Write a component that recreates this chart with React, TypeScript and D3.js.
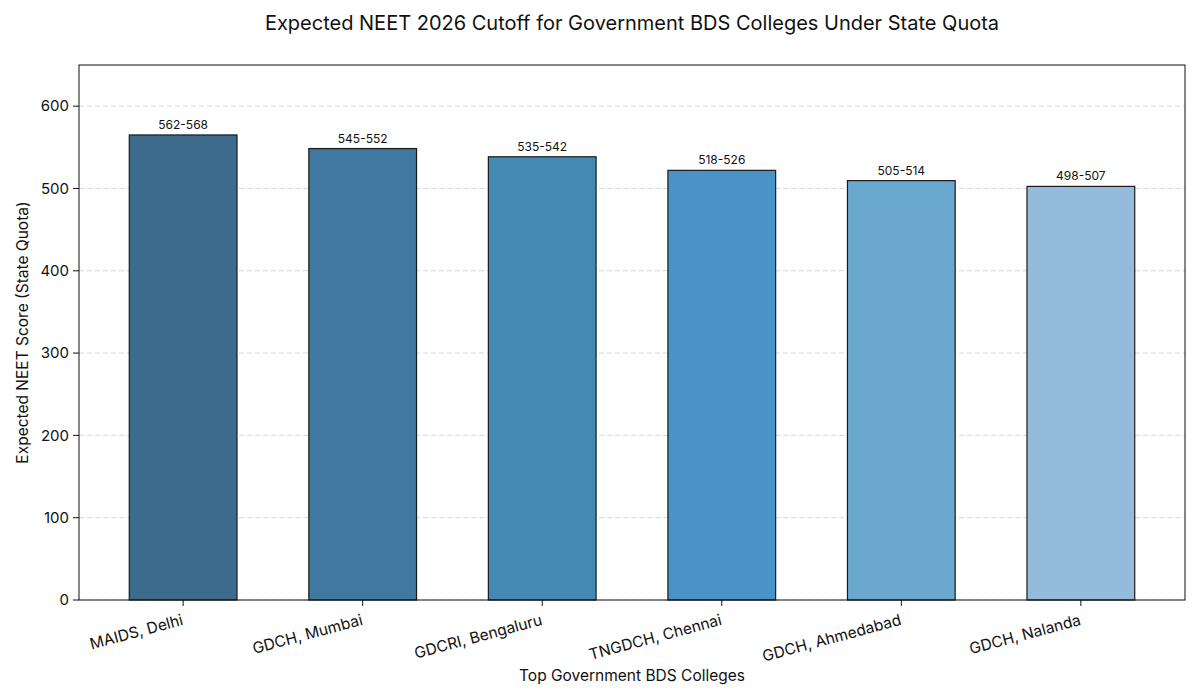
import React from "react";
import * as d3 from "d3";

const colleges = [
  "MAIDS, Delhi",
  "GDCH, Mumbai",
  "GDCRI, Bengaluru",
  "TNGDCH, Chennai",
  "GDCH, Ahmedabad",
  "GDCH, Nalanda",
];
const cutoffLow = [562, 545, 535, 518, 505, 498];
const cutoffHigh = [568, 552, 542, 526, 514, 507];
const barColors = ["#3d6b8b", "#4079a0", "#4488b4", "#4a93c6", "#6aa8cf", "#94bbdb"];
const yTicks = [0, 100, 200, 300, 400, 500, 600];

const W = 1200;
const H = 700;
const margin = { top: 65, right: 15, bottom: 100, left: 79 };
const font = "Inter, 'Noto Sans', sans-serif";

export default function App() {
  const innerW = W - margin.left - margin.right;
  const innerH = H - margin.top - margin.bottom;

  // bar height = middle of the expected range
  const mids = cutoffLow.map((d, i) => (d + cutoffHigh[i]) / 2);

  const x = d3.scaleLinear().domain([-0.58, colleges.length - 1 + 0.58]).range([0, innerW]);
  const y = d3.scaleLinear().domain([0, 650]).range([innerH, 0]);
  const bw = x(0.6) - x(0);

  return (
    <svg width={W} height={H} style={{ display: "block", position: "absolute", left: 0, top: 0 }} fontFamily={font}>
      <rect width={W} height={H} fill="white" />
      <text x={margin.left + innerW / 2} y={30} textAnchor="middle" fontSize={20} fill="#111">
        Expected NEET 2026 Cutoff for Government BDS Colleges Under State Quota
      </text>
      <g transform={`translate(${margin.left},${margin.top})`}>
        {yTicks.map((t) => (
          <g key={t}>
            <line x1={0} x2={innerW} y1={y(t)} y2={y(t)} stroke="#cccccc" strokeDasharray="5,3" strokeWidth={0.8} />
            <line x1={-6} x2={0} y1={y(t)} y2={y(t)} stroke="#111" strokeWidth={1} />
            <text x={-10} y={y(t)} dy="0.35em" textAnchor="end" fontSize={15} fill="#111">
              {t}
            </text>
          </g>
        ))}
        {mids.map((v, i) => (
          <g key={colleges[i]}>
            <rect
              x={x(i) - bw / 2}
              y={y(v)}
              width={bw}
              height={innerH - y(v)}
              fill={barColors[i]}
              stroke="#1a1a1a"
              strokeWidth={1.2}
            />
            <text x={x(i)} y={y(v) - 6} textAnchor="middle" fontSize={12} fill="#111">
              {cutoffLow[i]}-{cutoffHigh[i]}
            </text>
            <line x1={x(i)} x2={x(i)} y1={innerH} y2={innerH + 6} stroke="#111" />
            <text
              transform={`translate(${x(i) - 2},${innerH + 14}) rotate(-15)`}
              textAnchor="end"
              dy="0.71em"
              fontSize={15.5}
              fill="#111"
            >
              {colleges[i]}
            </text>
          </g>
        ))}
        <rect x={0} y={0} width={innerW} height={innerH} fill="none" stroke="#111" strokeWidth={1} />
        <text x={innerW / 2} y={innerH + 81} textAnchor="middle" fontSize={15.5} fill="#111">
          Top Government BDS Colleges
        </text>
        <text
          transform={`translate(${-51},${innerH / 2}) rotate(-90)`}
          textAnchor="middle"
          fontSize={15.5}
          fill="#111"
        >
          Expected NEET Score (State Quota)
        </text>
      </g>
    </svg>
  );
}
